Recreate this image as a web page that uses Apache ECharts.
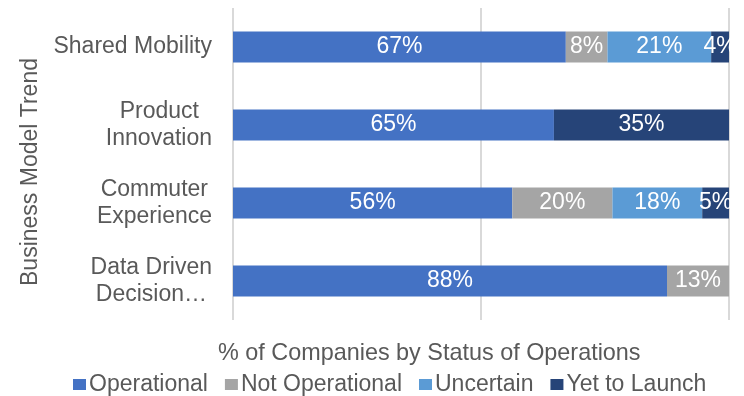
<!DOCTYPE html>
<html>
<head>
<meta charset="utf-8">
<script src="https://cdn.jsdelivr.net/npm/echarts@6/dist/echarts.min.js"></script>
<style>
  html, body { margin: 0; padding: 0; background: #fff; }
  #chart { width: 744px; height: 396px; }
</style>
</head>
<body>
<div id="chart"></div>
<script>
// categories, bottom to top as ECharts draws a category y axis
var categories = ["Data Driven\nDecision…", "Commuter\nExperience", "Product\nInnovation", "Shared Mobility"];
var operational    = [87.5, 56.3, 64.7, 67.1];
var notOperational = [12.5, 20.2, 0, 8.4];
var uncertain      = [0, 18.1, 0, 20.9];
var yetToLaunch    = [0, 5.4, 35.3, 3.6];

var textColor = "#595959";
var font = "Liberation Sans, Arial, sans-serif";
var fs = 23;

// shorter lines of a category label get right padding so they sit centred
// under the longest line, while the whole block stays right-aligned
var ctx = document.createElement("canvas").getContext("2d");
ctx.font = fs + "px " + font;
var labelRich = {};
categories.forEach(function (c, i) {
  var lines = c.split("\n");
  var widths = lines.map(function (s) { return ctx.measureText(s).width; });
  var w = Math.max.apply(null, widths);
  lines.forEach(function (s, j) {
    labelRich["c" + i + "_" + j] = {
      color: textColor, fontSize: fs, fontFamily: font, lineHeight: 27,
      padding: [0, Math.round((w - widths[j]) / 2), 0, 0]
    };
  });
});

function makeSeries(name, data, color) {
  return {
    name: name,
    type: "bar",
    stack: "total",
    barWidth: 31,
    data: data,
    itemStyle: { color: color },
    label: {
      show: true,
      position: "inside",
      color: "#fff",
      fontSize: fs,
      fontFamily: font,
      formatter: function (p) {
        return p.value > 0 ? Math.round(p.value) + "%" : "";
      }
    }
  };
}

var myChart = echarts.init(document.getElementById("chart"));
var option = {
  animation: false,
  textStyle: { fontFamily: font },
  title: {
    text: "% of Companies by Status of Operations",
    left: 218,
    top: 342,
    padding: 0,
    textStyle: { color: textColor, fontSize: 23.4, fontWeight: "normal", fontFamily: font }
  },
  legend: {
    bottom: 0,
    left: 73,
    padding: 0,
    itemWidth: 13,
    itemHeight: 11,
    itemGap: 17,
    icon: "rect",
    textStyle: { color: textColor, fontSize: fs, fontFamily: font, padding: [0, 0, 0, -2] },
    data: ["Operational", "Not Operational", "Uncertain", "Yet to Launch"]
  },
  grid: { left: 233, right: 15, top: 8, bottom: 76 },
  xAxis: {
    type: "value",
    min: 0,
    max: 100,
    interval: 50,
    axisLabel: { show: false },
    axisTick: { show: false },
    axisLine: { show: false },
    splitLine: { show: true, lineStyle: { color: "#D9D9D9", width: 2 } }
  },
  yAxis: {
    type: "category",
    data: categories,
    name: "Business Model Trend",
    nameLocation: "middle",
    nameGap: 183,
    nameTextStyle: { color: textColor, fontSize: fs, fontFamily: font, padding: [0, 16, 0, 0] },
    axisLine: { show: false },
    axisTick: { show: false },
    axisLabel: {
      margin: 21,
      align: "right",
      formatter: function (v, i) {
        return v.split("\n").map(function (s, j) { return "{c" + i + "_" + j + "|" + s + "}"; }).join("\n");
      },
      rich: labelRich
    }
  },
  series: [
    makeSeries("Operational", operational, "#4472C4"),
    makeSeries("Not Operational", notOperational, "#A5A5A5"),
    makeSeries("Uncertain", uncertain, "#5B9BD5"),
    makeSeries("Yet to Launch", yetToLaunch, "#264478")
  ]
};
myChart.setOption(option);
</script>
</body>
</html>
